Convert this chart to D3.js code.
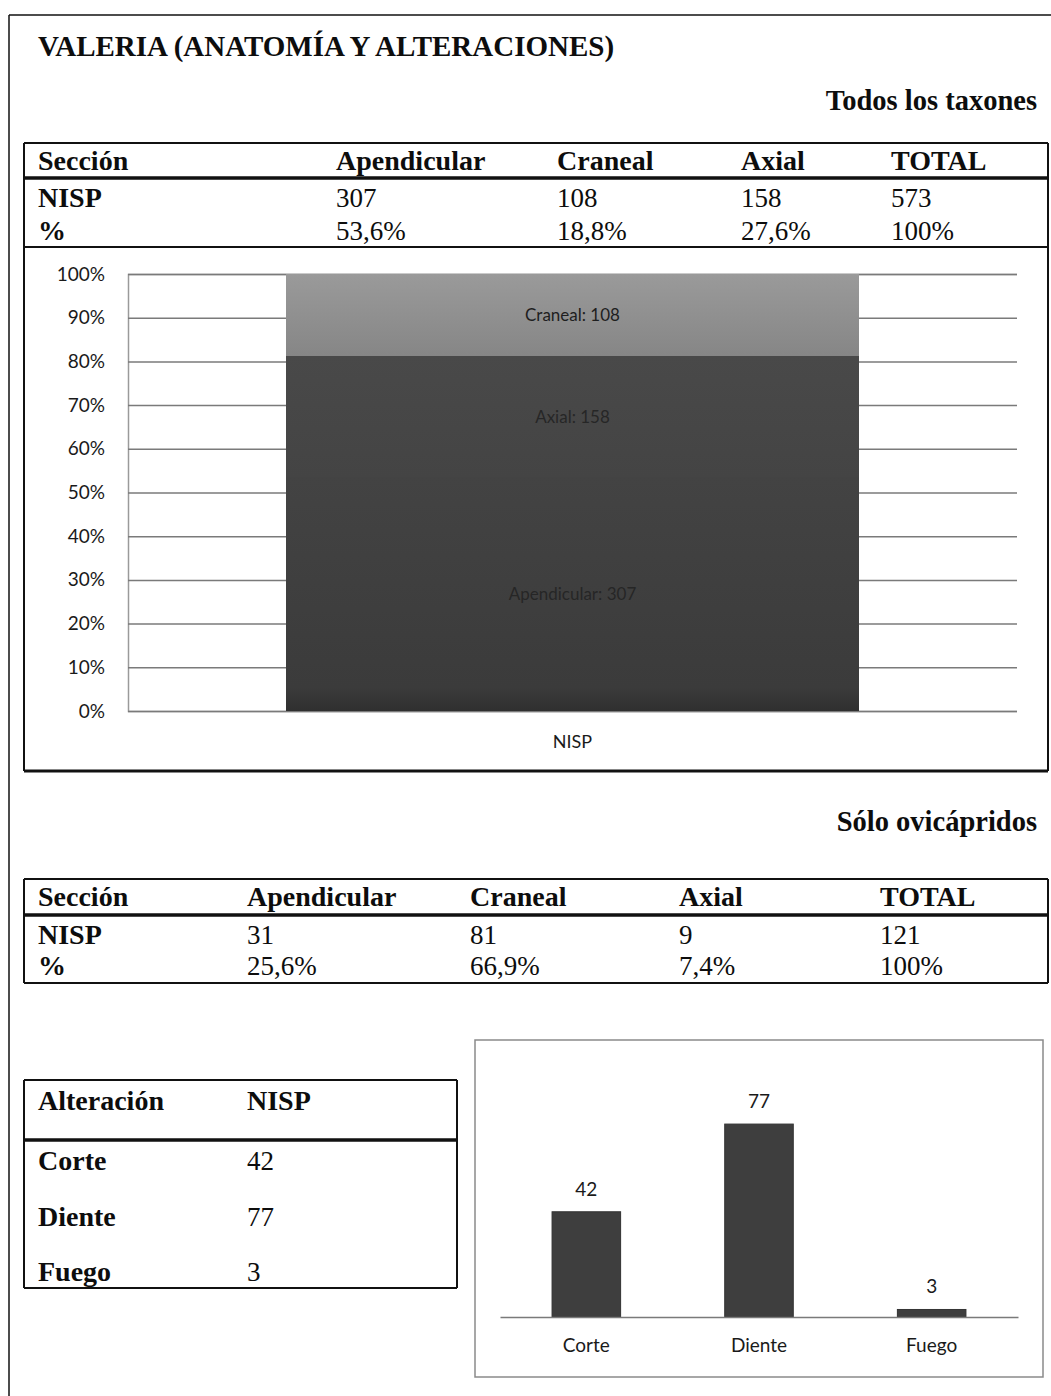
<!DOCTYPE html>
<html>
<head>
<meta charset="utf-8">
<script src="https://cdn.jsdelivr.net/npm/d3@7"></script>
<style>
  html, body { margin: 0; padding: 0; background: #fff; }
  svg { display: block; }
</style>
</head>
<body>
<svg id="page" width="1051" height="1396"></svg>
<script>
// ---- Data ----
const sections = ["Apendicular", "Craneal", "Axial"];
const nispAll = [307, 108, 158];
const pctAll = ["53,6%", "18,8%", "27,6%"];
const totalAll = 573;

const nispOvi = [31, 81, 9];
const pctOvi = ["25,6%", "66,9%", "7,4%"];
const totalOvi = 121;

const alterations = ["Corte", "Diente", "Fuego"];
const alterationNisp = [42, 77, 3];

const stackOrder = ["Apendicular", "Axial", "Craneal"]; // bottom to top
const pctTicks = [0, 0.1, 0.2, 0.3, 0.4, 0.5, 0.6, 0.7, 0.8, 0.9, 1];

// ---- Setup ----
const svg = d3.select("#page");
const SERIF = "'Liberation Serif', 'Times New Roman', serif";
const SANS = "Lato, 'Noto Sans', sans-serif";

// Outer frame
svg.append("line").attr("x1", 9).attr("x2", 1051).attr("y1", 15).attr("y2", 15)
  .attr("stroke", "#111").attr("stroke-width", 1.5);
svg.append("line").attr("x1", 9).attr("x2", 9).attr("y1", 15).attr("y2", 1396)
  .attr("stroke", "#111").attr("stroke-width", 1.5);

// Title and subtitles
svg.append("text").attr("x", 38).attr("y", 56)
  .attr("font-family", SERIF).attr("font-weight", "bold").attr("font-size", 29)
  .attr("fill", "#0d0d0d").text("VALERIA (ANATOMÍA Y ALTERACIONES)");

svg.append("text").attr("x", 1037).attr("y", 110).attr("text-anchor", "end")
  .attr("font-family", SERIF).attr("font-weight", "bold").attr("font-size", 28.5)
  .attr("fill", "#0d0d0d").text("Todos los taxones");

svg.append("text").attr("x", 1037).attr("y", 831).attr("text-anchor", "end")
  .attr("font-family", SERIF).attr("font-weight", "bold").attr("font-size", 28.5)
  .attr("fill", "#0d0d0d").text("Sólo ovicápridos");

// ---- Helpers for the tables ----
function hline(x1, x2, y, w) {
  svg.append("line").attr("x1", x1).attr("x2", x2).attr("y1", y).attr("y2", y)
    .attr("stroke", "#111").attr("stroke-width", w);
}
function vline(x, y1, y2, w) {
  svg.append("line").attr("x1", x).attr("x2", x).attr("y1", y1).attr("y2", y2)
    .attr("stroke", "#111").attr("stroke-width", w);
}
function cell(x, y, txt, bold) {
  svg.append("text").attr("x", x).attr("y", y)
    .attr("font-family", SERIF).attr("font-size", bold ? 28 : 27)
    .attr("font-weight", bold ? "bold" : "normal")
    .attr("fill", "#0d0d0d").text(txt);
}

function sectionTable(cfg) {
  const { top, thick, bottom, cols, rows, nisp, pct, total, boxBottom } = cfg;
  hline(24, 1048, top, 2);
  hline(24, 1048, thick, 3.5);
  hline(24, 1048, bottom, 2);
  vline(24, top, boxBottom || bottom, 2);
  vline(1048, top, boxBottom || bottom, 2);
  const headers = ["Sección"].concat(sections).concat(["TOTAL"]);
  headers.forEach((h, i) => cell(cols[i], rows[0], h, true));
  cell(cols[0], rows[1], "NISP", true);
  cell(cols[0], rows[2], "%", true);
  nisp.forEach((v, i) => cell(cols[i + 1], rows[1], String(v), false));
  cell(cols[4], rows[1], String(total), false);
  pct.forEach((v, i) => cell(cols[i + 1], rows[2], v, false));
  cell(cols[4], rows[2], "100%", false);
}

sectionTable({
  top: 143, thick: 178, bottom: 247, boxBottom: 771,
  cols: [38, 336, 557, 741, 891], rows: [170, 207, 240],
  nisp: nispAll, pct: pctAll, total: totalAll
});
hline(24, 1048, 771, 3);

sectionTable({
  top: 879, thick: 915, bottom: 983,
  cols: [38, 247, 470, 679, 880], rows: [906, 944, 975],
  nisp: nispOvi, pct: pctOvi, total: totalOvi
});

// ---- 100% stacked column chart ----
const defs = svg.append("defs");
function vGrad(id, stops) {
  const g = defs.append("linearGradient").attr("id", id)
    .attr("x1", 0).attr("x2", 0).attr("y1", 0).attr("y2", 1);
  stops.forEach(([o, c]) => g.append("stop").attr("offset", o).attr("stop-color", c));
}
vGrad("g-craneal", [[0, "#9a9a9a"], [1, "#868686"]]);
vGrad("g-axial", [[0, "#494949"], [1, "#444444"]]);
vGrad("g-apend", [[0, "#434343"], [0.9, "#3b3b3b"], [1, "#2f2f2f"]]);
const segFill = { "Craneal": "url(#g-craneal)", "Axial": "url(#g-axial)", "Apendicular": "url(#g-apend)" };

const c1 = { left: 128, right: 1017, top: 274, bottom: 711 };
const y1 = d3.scaleLinear().domain([0, 1]).range([c1.bottom, c1.top]);
const x1 = d3.scaleBand().domain(["NISP"]).range([c1.left, c1.right])
  .paddingInner(0).paddingOuter(0.2757);

const yAxis1 = d3.axisLeft(y1).tickValues(pctTicks)
  .tickFormat(d3.format(".0%")).tickSize(-(c1.right - c1.left)).tickPadding(23);
const gA = svg.append("g").attr("transform", `translate(${c1.left},0)`).call(yAxis1);
gA.select(".domain").attr("stroke", "#9a9a9a").attr("stroke-width", 1.5);
gA.selectAll(".tick line").attr("stroke", "#7a7a7a").attr("stroke-width", 1.5);
gA.selectAll(".tick text").attr("font-family", SANS).attr("font-size", 19)
  .attr("fill", "#1a1a1a");

const byName = {};
sections.forEach((s, i) => byName[s] = nispAll[i]);
const row = { cat: "NISP" };
stackOrder.forEach(s => row[s] = byName[s]);
const stack = d3.stack().keys(stackOrder).offset(d3.stackOffsetExpand)([row]);

const bars = svg.append("g").attr("shape-rendering", "crispEdges");
stack.forEach(layer => {
  const d = layer[0];
  bars.append("rect")
    .attr("x", x1("NISP")).attr("width", x1.bandwidth())
    .attr("y", Math.round(y1(d[1]))).attr("height", Math.round(y1(d[0])) - Math.round(y1(d[1])))
    .attr("fill", segFill[layer.key]);
});
const labelFill = { "Craneal": "#1e1e1e", "Axial": "#262626", "Apendicular": "#262626" };
const labels = svg.append("g");
stack.forEach(layer => {
  const d = layer[0];
  labels.append("text")
    .attr("x", x1("NISP") + x1.bandwidth() / 2)
    .attr("y", (y1(d[0]) + y1(d[1])) / 2 + 6)
    .attr("text-anchor", "middle")
    .attr("font-family", SANS).attr("font-size", 17)
    .attr("fill", labelFill[layer.key])
    .text(`${layer.key}: ${byName[layer.key]}`);
});

svg.append("text").attr("x", x1("NISP") + x1.bandwidth() / 2).attr("y", 748)
  .attr("text-anchor", "middle").attr("font-family", SANS).attr("font-size", 18)
  .attr("fill", "#1a1a1a").text("NISP");

// ---- Alteration table ----
hline(24, 457, 1080, 2);
hline(24, 457, 1140, 3.5);
hline(24, 457, 1288, 2);
vline(24, 1080, 1288, 2);
vline(457, 1080, 1288, 2);
cell(38, 1110, "Alteración", true);
cell(247, 1110, "NISP", true);
const rowY = [1170, 1226, 1281];
alterations.forEach((a, i) => {
  cell(38, rowY[i], a, true);
  cell(247, rowY[i], String(alterationNisp[i]), false);
});

// ---- Alteration column chart ----
svg.append("rect").attr("x", 475).attr("y", 1040).attr("width", 568).attr("height", 337)
  .attr("fill", "none").attr("stroke", "#8a8a8a").attr("stroke-width", 1.5);

const c2 = { left: 500, right: 1018, base: 1317 };
const x2 = d3.scaleBand().domain(alterations).range([c2.left, c2.right])
  .paddingInner(0.603).paddingOuter(0.3015);
const y2 = d3.scaleLinear().domain([0, 90]).range([c2.base, c2.base - 225.5]);

const g2 = svg.append("g");
alterations.forEach((a, i) => {
  const v = alterationNisp[i];
  g2.append("rect")
    .attr("x", x2(a)).attr("width", x2.bandwidth())
    .attr("y", y2(v)).attr("height", y2(0) - y2(v))
    .attr("fill", "#3e3e3e").attr("stroke", "#333").attr("stroke-width", 1);
  g2.append("text")
    .attr("x", x2(a) + x2.bandwidth() / 2).attr("y", y2(v) - 16)
    .attr("text-anchor", "middle").attr("font-family", SANS).attr("font-size", 19)
    .attr("fill", "#1a1a1a").text(String(v));
});
const xAxis2 = d3.axisBottom(x2).tickSize(0).tickPadding(22);
const gX2 = svg.append("g").attr("transform", `translate(0,${c2.base})`).call(xAxis2);
gX2.select(".domain").attr("stroke", "#7a7a7a").attr("stroke-width", 1.5);
gX2.selectAll(".tick text").attr("font-family", SANS).attr("font-size", 19)
  .attr("fill", "#1a1a1a");
</script>
</body>
</html>
